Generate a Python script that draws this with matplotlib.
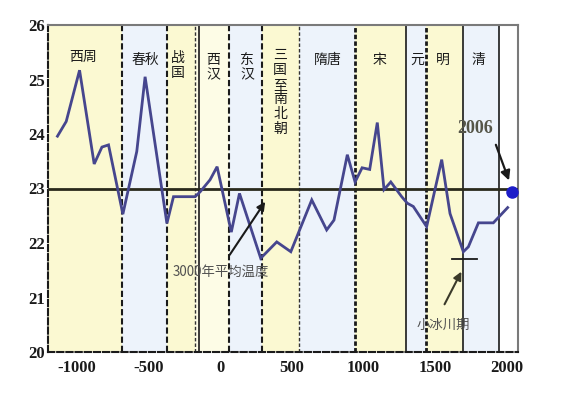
import matplotlib
matplotlib.use("Agg")
import matplotlib.pyplot as plt

plt.rcParams['font.family'] = ['Noto Sans CJK SC', 'DejaVu Sans']

# ---- data ----
years = [-1134, -1073, -980, -878, -824, -778, -678, -581, -523, -371, -325,
         -174, -139, -70, -21, 78, 135, 283, 395, 493, 639, 743, 794, 887,
         941, 990, 1043, 1096, 1143, 1190, 1266, 1305, 1347, 1440, 1545,
         1603, 1696, 1731, 1801, 1905, 2005]
temps = [23.96, 24.23, 25.17, 23.45, 23.76, 23.80, 22.53, 23.68, 25.05, 22.36,
         22.85, 22.85, 22.94, 23.16, 23.40, 22.20, 22.91, 21.72, 22.02, 21.84,
         22.79, 22.24, 22.42, 23.62, 23.12, 23.38, 23.35, 24.21, 22.98, 23.12,
         22.85, 22.73, 22.67, 22.30, 23.53, 22.54, 21.84, 21.93, 22.37, 22.37,
         22.65]

mean_temp = 23.0
point_2006 = (2038, 22.93)
little_ice_age = 21.71

# dynasty band edges and band kinds ('y' yellow, 'b' blue, 'p' pale, 'w' white)
band_edges = [-1200, -683, -369, -174, -146, 63, 293, 551, 941, 1296, 1436, 1693, 1944, 2077]
band_kind = ['y', 'b', 'y', 'p', 'p', 'b', 'y', 'b', 'y', 'b', 'y', 'b', 'w']

# boundary lines (year, style key)
boundaries = [(-683, 'd'), (-369, 'd'), (-174, 'dt'), (-146, 's'), (63, 'd'),
              (293, 'd'), (551, 'dt'), (941, 'dd'), (1296, 's'), (1436, 'dd'),
              (1693, 's'), (1944, 's')]

# dynasty labels: (text, year, temp, vertical)
dynasties = [("西周", -955, 25.41, False), ("春秋", -523, 25.36, False),
             ("战国", -293, 25.25, True), ("西汉", -49, 25.22, True),
             ("东汉", 188, 25.22, True), ("三国至南北朝", 418, 24.77, True),
             ("隋唐", 753, 25.36, False), ("宋", 1108, 25.36, False),
             ("元", 1373, 25.36, False), ("明", 1554, 25.36, False),
             ("清", 1798, 25.36, False)]

x_ticks = [-1000, -500, 0, 500, 1000, 1500, 2000]
y_ticks = [20, 21, 22, 23, 24, 25, 26]

# ---- figure ----
fig = plt.figure(figsize=(5.82, 3.94), dpi=100)
ax = fig.add_axes([48/582, 42/394, 470/582, 327/394])
ax.set_xlim(-1200, 2077)
ax.set_ylim(20, 26)

colors = {'y': '#fbf9d2', 'b': '#edf3fb', 'p': '#fdfce6', 'w': '#ffffff'}
for i, k in enumerate(band_kind):
    ax.axvspan(band_edges[i], band_edges[i+1], color=colors[k], lw=0, zorder=0)

styles = {'d': dict(ls=(0, (3, 1.4)), lw=1.5, color='#1a1a1a'),
          'dt': dict(ls=(0, (2.5, 1.5)), lw=1.0, color='#333333'),
          'dd': dict(ls=(0, (1.6, 0.8)), lw=2.0, color='#1a1a1a'),
          's': dict(ls='-', lw=1.2, color='#1a1a1a')}
for yr, st in boundaries:
    ax.axvline(yr, zorder=2, **styles[st])

ax.axhline(mean_temp, color='#2a2a1c', lw=2.0, zorder=3)

ax.plot(years, temps, color='#46468e', lw=2.0, zorder=4, solid_joinstyle='miter')
ax.plot([point_2006[0]], [point_2006[1]], 'o', color='#1c1cc8', ms=8, zorder=6, clip_on=False)

# little ice age bar
ax.plot([1615, 1789], [little_ice_age, little_ice_age], color='#1a1a1a', lw=1.3, zorder=5)

# annotations
ax.annotate("", xy=(2021, 23.10), xytext=(1916, 23.85),
            arrowprops=dict(arrowstyle='-|>', color='#1a1a1a', lw=1.6, mutation_scale=14), zorder=6)
ax.text(1777, 24.11, "2006", family='Liberation Serif', fontweight='bold', fontsize=13,
        color='#555548', ha='center', va='center', zorder=6)

ax.annotate("", xy=(325, 22.80), xytext=(56, 21.74),
            arrowprops=dict(arrowstyle='-|>', color='#1a1a1a', lw=1.5, mutation_scale=12), zorder=6)
ax.text(7, 21.47, "3000年平均温度", fontsize=9.6, color='#505050', ha='center', va='center', zorder=6)

ax.annotate("", xy=(1691, 21.52), xytext=(1556, 20.83),
            arrowprops=dict(arrowstyle='-|>', color='#3a3a2a', lw=1.5, mutation_scale=12), zorder=6)
ax.text(1554, 20.50, "小冰川期", fontsize=9.6, color='#505050', ha='center', va='center', zorder=6)

for name, x, y, vert in dynasties:
    txt = "\n".join(name) if vert else name
    ax.text(x, y, txt, fontsize=10, color='#1a1a1a', ha='center', va='center',
            linespacing=1.08, zorder=6)

# axes styling
ax.set_xticks(x_ticks)
ax.set_yticks(y_ticks)
ax.set_xticklabels([str(v) for v in x_ticks], family='Liberation Serif', fontweight='bold', fontsize=12)
ax.set_yticklabels([str(v) for v in y_ticks], family='Liberation Serif', fontweight='bold', fontsize=12)
ax.tick_params(axis='x', length=0, pad=6, colors='#1a1a1a')
ax.tick_params(axis='y', length=0, pad=2, colors='#1a1a1a')

for s in ['top', 'right']:
    ax.spines[s].set_color('#7a7a7a')
    ax.spines[s].set_linewidth(1.5)
for s in ['left', 'bottom']:
    ax.spines[s].set_color('#1a1a1a')
    ax.spines[s].set_linewidth(1.5)
    ax.spines[s].set_linestyle((0, (3, 1.4)))

fig.savefig("out.png", dpi=100)
